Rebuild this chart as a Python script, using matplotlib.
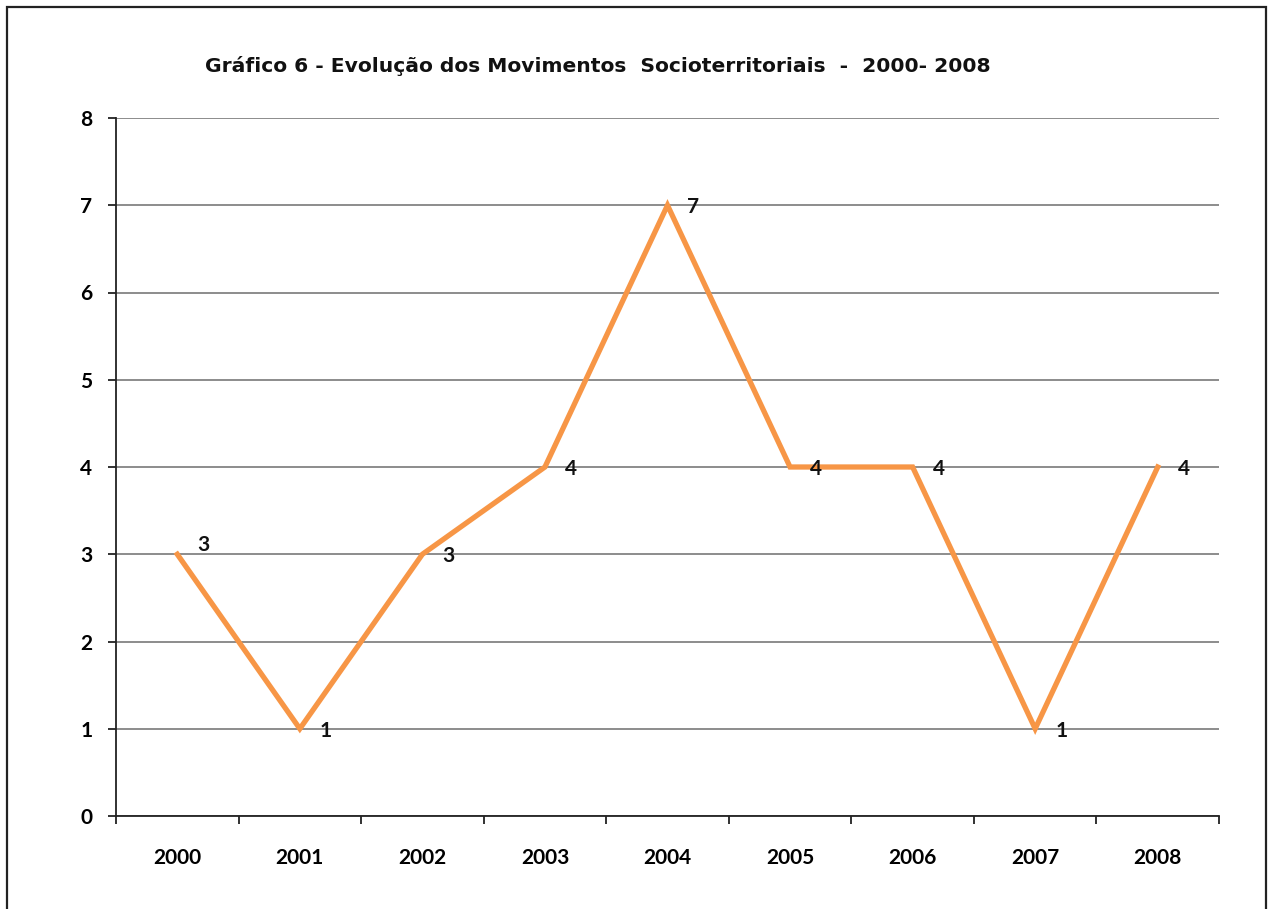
import matplotlib.pyplot as plt
import numpy as np
from matplotlib.patches import Rectangle

anos = ['2000', '2001', '2002', '2003', '2004', '2005', '2006', '2007', '2008']
movimentos = [3, 1, 3, 4, 7, 4, 4, 1, 4]
titulo = 'Gráfico 6 - Evolução dos Movimentos  Socioterritoriais  -  2000- 2008'

fig = plt.figure(figsize=(12.7, 9.09), dpi=100)
fig.patches.append(Rectangle((7/1270, -0.05), 1259/1270, 1.05 - 7/909, transform=fig.transFigure,
                             fill=False, edgecolor='#222222', linewidth=1.6))
ax = fig.add_axes([116/1270, 1 - 816/909, 1103/1270, 698/909])

x = np.arange(len(anos))
ax.plot(x, movimentos, color='#F79646', linewidth=3.8, solid_joinstyle='miter', zorder=3)

# rotulos dos pontos, a direita (o primeiro um pouco acima)
for i, v in enumerate(movimentos):
    dy = 9 if i == 0 else -2
    ax.annotate(str(v), (x[i], v), xytext=(26, dy), textcoords='offset pixels',
                ha='center', va='center', fontsize=15, fontweight='bold', family='Lato', color='#111111')

ax.set_ylim(0, 8)
ax.set_xlim(-0.5, len(anos) - 0.5)
ax.set_yticks(range(0, 9))
ax.set_yticklabels([str(i) for i in range(0, 9)], fontsize=15, fontweight='bold', family='Lato')
ax.yaxis.grid(True, color='#8c8c8c', linewidth=1.4)
ax.set_axisbelow(True)

ax.set_xticks(np.arange(-0.5, len(anos)))
ax.set_xticklabels([])
ax.set_xticks(x, minor=True)
ax.set_xticklabels(anos, minor=True, fontsize=15, fontweight='bold', family='Lato')
ax.tick_params(axis='x', which='minor', length=0, pad=23)
ax.tick_params(axis='x', which='major', length=6, width=1.3, color='#222222')
ax.tick_params(axis='y', length=6, width=1.3, color='#222222', pad=11)

for s in ['top', 'right']:
    ax.spines[s].set_visible(False)
for s in ['left', 'bottom']:
    ax.spines[s].set_color('#222222')
    ax.spines[s].set_linewidth(1.3)

fig.text(598/1270, 1 - 66/909, titulo, ha='center', va='center', fontsize=14.6,
         fontweight='bold', family='DejaVu Sans', color='#111111')

fig.savefig('out.png', dpi=100)
